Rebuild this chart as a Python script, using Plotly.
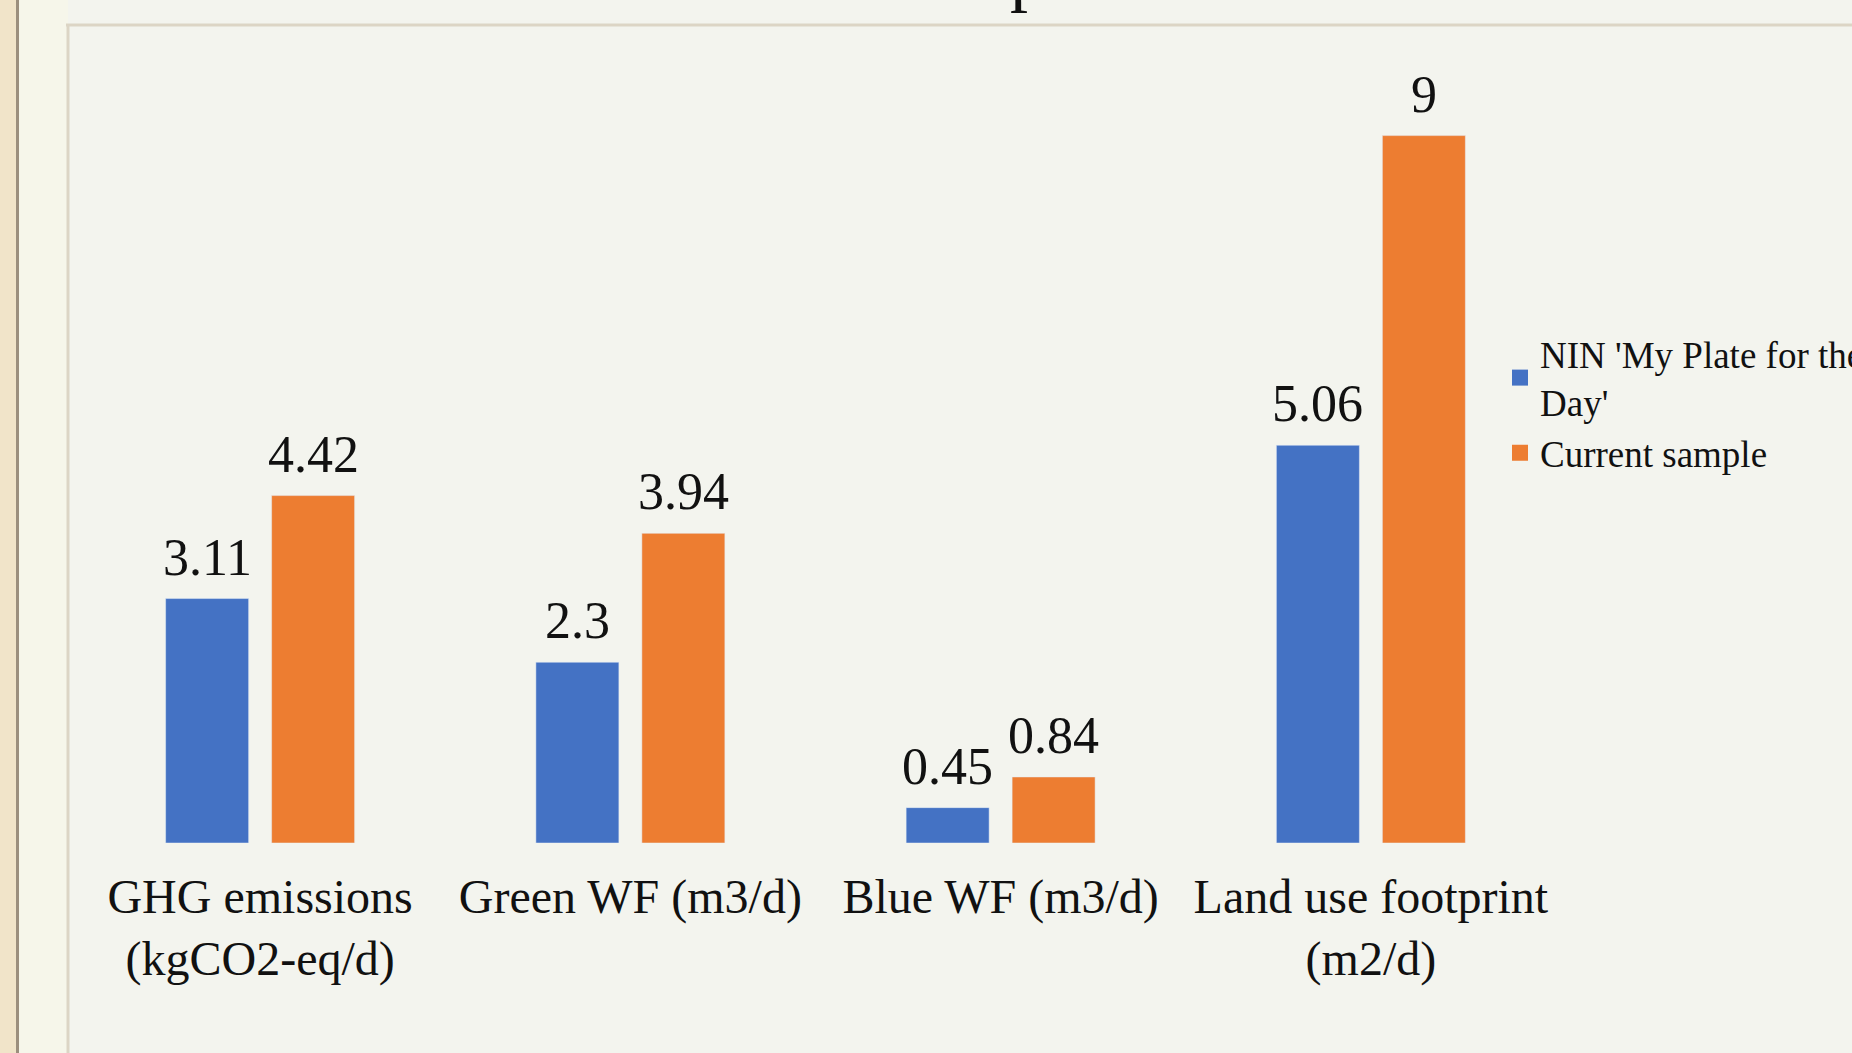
import plotly.graph_objects as go

categories = ["GHG emissions<br>(kgCO2-eq/d)", "Green WF (m3/d)", "Blue WF (m3/d)", "Land use footprint<br>(m2/d)"]
series_names = ["NIN 'My Plate for the<br>Day'", "Current sample"]
nin_values = [3.11, 2.3, 0.45, 5.06]
current_values = [4.42, 3.94, 0.84, 9]
value_labels_nin = ["3.11", "2.3", "0.45", "5.06"]
value_labels_current = ["4.42", "3.94", "0.84", "9"]

W, H = 1852, 1053
ML, MR, MT, MB = 75, 296, 57, 210
PW, PH = W - ML - MR, H - MT - MB

def px2x(px):
    return (px - ML) / PW

def px2y(py):
    return (H - MB - py) / PH

BLUE = "#4472C4"
ORANGE = "#ED7D31"
FONT = "Liberation Serif"

fig = go.Figure()
fig.add_trace(go.Bar(x=categories, y=nin_values, marker_color=BLUE, showlegend=False, hoverinfo="skip"))
fig.add_trace(go.Bar(x=categories, y=current_values, marker_color=ORANGE, showlegend=False, hoverinfo="skip"))
# legend entries
for i, (name, col) in enumerate(zip(series_names, [BLUE, ORANGE])):
    fig.add_trace(go.Scatter(x=[None], y=[None], mode="markers", name=name, legendgroup=f"g{i}",
                             marker=dict(symbol="square", size=16, color=col)))

annotations = []
for vals, labs, shift in [(nin_values, value_labels_nin, -53), (current_values, value_labels_current, 53)]:
    for c, v, t in zip(categories, vals, labs):
        annotations.append(dict(x=c, y=v, xref="x", yref="y", text=t, showarrow=False,
                                xshift=shift, yanchor="bottom", yshift=11,
                                font=dict(family=FONT, size=52, color="#111111")))
# partially visible slide title
annotations.append(dict(x=px2x(1028), y=px2y(16), xref="paper", yref="paper", text="p",
                        showarrow=False, yanchor="bottom", xanchor="center",
                        font=dict(family=FONT, size=72, color="#111111")))

shapes = [
    dict(type="rect", xref="paper", yref="paper", x0=px2x(0), x1=px2x(16), y0=px2y(H), y1=px2y(0),
         fillcolor="#F1E4C9", line=dict(width=0), layer="below"),
    dict(type="rect", xref="paper", yref="paper", x0=px2x(16), x1=px2x(19), y0=px2y(H), y1=px2y(0),
         fillcolor="#9C8F7E", line=dict(width=0), layer="below"),
    dict(type="rect", xref="paper", yref="paper", x0=px2x(19), x1=px2x(68), y0=px2y(H), y1=px2y(0),
         fillcolor="#F6F6EA", line=dict(width=0), layer="below"),
    dict(type="line", xref="paper", yref="paper", x0=px2x(68), x1=px2x(68), y0=px2y(25), y1=px2y(H),
         line=dict(color="#DCD5C5", width=3), layer="below"),
    dict(type="line", xref="paper", yref="paper", x0=px2x(66), x1=px2x(W), y0=px2y(25), y1=px2y(25),
         line=dict(color="#DCD5C5", width=3), layer="below"),
]

fig.update_layout(
    width=W, height=H,
    margin=dict(l=ML, r=MR, t=MT, b=MB, autoexpand=False),
    paper_bgcolor="#F3F4EE", plot_bgcolor="rgba(0,0,0,0)",
    barmode="group", bargap=0.4275, bargroupgap=0.217,
    font=dict(family=FONT, color="#111111"),
    xaxis=dict(showline=False, showgrid=False, zeroline=False, ticks="",
               tickfont=dict(family=FONT, size=48, color="#111111"), ticklabelstandoff=21),
    yaxis=dict(range=[0, 10], visible=False),
    legend=dict(x=px2x(1500), y=px2y(323), xanchor="left", yanchor="top",
                font=dict(family=FONT, size=37, color="#111111"),
                bgcolor="rgba(0,0,0,0)", itemwidth=30, tracegroupgap=0),
    annotations=annotations, shapes=shapes,
)

fig.write_html("out.html", config={"displayModeBar": False},
               post_script="document.body.style.margin='0';document.body.style.overflow='hidden';")
